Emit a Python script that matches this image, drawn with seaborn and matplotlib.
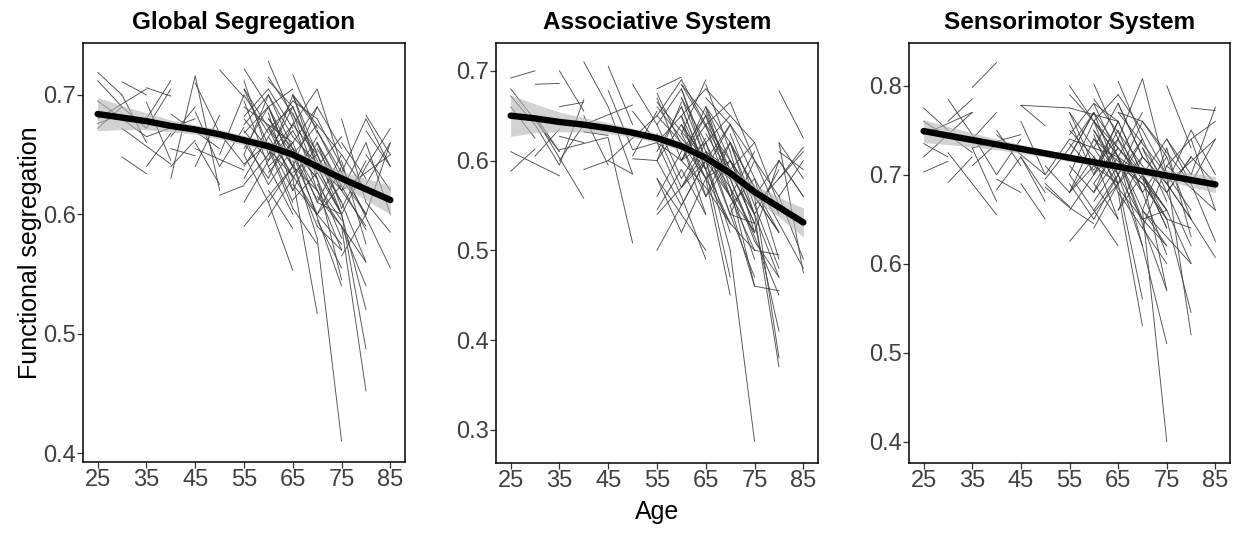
import matplotlib
matplotlib.use("Agg")
import matplotlib.pyplot as plt
import seaborn as sns
import pandas as pd

# Visit ages for each participant (same participants in every panel)
ages = [
    (25, 30), (25, 30), (25, 35), (25, 30), (30, 35), (30, 35), (30, 35, 40), (35, 40),
    (35, 40), (35, 40), (40, 45, 50), (40, 45), (40, 45), (45, 50), (45, 50, 55), (45, 50),
    (50, 55), (50, 55), (50, 55, 60), (30, 40), (35, 45), (45, 55), (25, 35), (40, 50),
    (25, 30), (30, 35), (35, 40), (40, 45), (45, 50), (50, 55),
    (55, 60), (55, 60), (55, 60), (55, 60, 65), (55, 65), (55, 60), (55, 60), (55, 65),
    (55, 60), (55, 60), (55, 60, 65), (55, 65), (60, 65), (60, 65), (60, 65), (60, 65, 70),
    (60, 65), (60, 70), (60, 65), (60, 65), (60, 65), (60, 65, 70), (60, 70), (60, 65),
    (60, 65), (60, 65), (65, 70), (65, 70), (65, 70), (65, 70, 75), (65, 70), (65, 75),
    (65, 70), (65, 70), (65, 70), (65, 70, 75), (65, 70), (65, 75), (65, 70), (65, 70),
    (70, 75), (70, 75), (70, 75), (70, 75, 80), (70, 75), (70, 75), (70, 80), (70, 75),
    (70, 75), (70, 75), (70, 75), (70, 75, 80), (75, 80), (75, 80), (75, 80), (75, 80),
    (75, 80), (75, 85), (75, 80), (75, 80), (80, 85), (80, 85), (80, 85), (80, 85),
    (80, 85), (75, 80, 85), (60, 70), (55, 65), (65, 75), (70, 80), (60, 65), (65, 70),
    (70, 75), (55, 60), (60, 65),
    (55, 60), (55, 60), (55, 60), (55, 60, 65), (55, 60), (55, 60), (55, 65), (55, 60),
    (60, 65), (60, 65), (60, 65), (60, 65), (60, 65, 70), (60, 65), (60, 65), (60, 70),
    (60, 65), (60, 65), (60, 65),
    (65, 70), (65, 70), (65, 70), (65, 70), (65, 70), (65, 70, 75), (65, 70), (65, 70),
    (65, 75), (65, 70), (65, 70),
    (70, 75), (70, 75), (70, 75), (70, 75), (70, 75), (70, 75, 80), (70, 75), (70, 80),
    (70, 75), (70, 75),
    (75, 80), (75, 80), (75, 80), (75, 80), (75, 85), (75, 80),
    (80, 85), (80, 85), (80, 85),
    (60, 65), (65, 70), (70, 75), (60, 65), (65, 70), (70, 75),
]

global_vals = [
    (0.719, 0.700), (0.712, 0.690), (0.695, 0.665), (0.676, 0.684), (0.711, 0.700), (0.648, 0.634),
    (0.690, 0.672, 0.705), (0.706, 0.699), (0.640, 0.668), (0.694, 0.645), (0.630, 0.716, 0.620),
    (0.655, 0.649), (0.640, 0.662), (0.710, 0.668), (0.686, 0.640, 0.673), (0.660, 0.625),
    (0.721, 0.698), (0.616, 0.624), (0.668, 0.642, 0.660), (0.672, 0.642), (0.665, 0.680),
    (0.655, 0.637), (0.680, 0.705), (0.684, 0.655),
    (0.672, 0.690), (0.700, 0.660), (0.680, 0.712), (0.665, 0.690), (0.640, 0.683), (0.650, 0.700),
    (0.722, 0.690), (0.700, 0.668), (0.675, 0.700), (0.655, 0.690, 0.640), (0.590, 0.640),
    (0.712, 0.650), (0.665, 0.625), (0.690, 0.660), (0.640, 0.672), (0.682, 0.705),
    (0.660, 0.630, 0.676), (0.705, 0.610), (0.728, 0.680), (0.690, 0.640), (0.665, 0.695),
    (0.700, 0.655, 0.620), (0.620, 0.588), (0.680, 0.630), (0.655, 0.605), (0.645, 0.670),
    (0.610, 0.553), (0.675, 0.640, 0.690), (0.715, 0.652), (0.635, 0.660), (0.598, 0.630),
    (0.672, 0.690), (0.717, 0.668), (0.690, 0.645), (0.660, 0.610), (0.675, 0.705, 0.640),
    (0.640, 0.590), (0.655, 0.540), (0.620, 0.660), (0.605, 0.575), (0.685, 0.630),
    (0.650, 0.600, 0.575), (0.630, 0.517), (0.665, 0.620), (0.695, 0.680), (0.640, 0.620),
    (0.580, 0.410), (0.650, 0.600), (0.690, 0.655), (0.640, 0.600, 0.520), (0.620, 0.570),
    (0.600, 0.640), (0.660, 0.587), (0.595, 0.555), (0.670, 0.630), (0.630, 0.580),
    (0.610, 0.650), (0.655, 0.620, 0.590), (0.590, 0.452), (0.600, 0.487), (0.650, 0.620),
    (0.620, 0.660), (0.680, 0.610), (0.640, 0.555), (0.565, 0.600), (0.600, 0.640),
    (0.683, 0.650), (0.640, 0.672), (0.610, 0.585), (0.600, 0.660), (0.660, 0.600),
    (0.635, 0.680, 0.640), (0.690, 0.612), (0.625, 0.675), (0.700, 0.650), (0.620, 0.560),
    (0.705, 0.672), (0.675, 0.650), (0.645, 0.610), (0.650, 0.610), (0.660, 0.620),
    (0.680, 0.655), (0.650, 0.700), (0.695, 0.640), (0.670, 0.645, 0.700), (0.630, 0.665),
    (0.610, 0.645), (0.705, 0.640), (0.668, 0.690),
    (0.700, 0.665), (0.685, 0.620), (0.650, 0.690), (0.640, 0.600), (0.672, 0.630, 0.665),
    (0.712, 0.690), (0.625, 0.655), (0.665, 0.600), (0.690, 0.705), (0.655, 0.632), (0.610, 0.640),
    (0.700, 0.650), (0.680, 0.620), (0.650, 0.675), (0.625, 0.600), (0.660, 0.690),
    (0.690, 0.640, 0.600), (0.612, 0.635), (0.645, 0.580), (0.670, 0.600), (0.700, 0.672),
    (0.635, 0.650),
    (0.660, 0.605), (0.640, 0.665), (0.615, 0.590), (0.680, 0.640), (0.590, 0.570),
    (0.650, 0.610, 0.560), (0.600, 0.625), (0.670, 0.600), (0.630, 0.545), (0.610, 0.600),
    (0.660, 0.630), (0.630, 0.600), (0.605, 0.645), (0.645, 0.575), (0.620, 0.650), (0.590, 0.540),
    (0.650, 0.620), (0.625, 0.660), (0.670, 0.640),
    (0.680, 0.650), (0.655, 0.630), (0.625, 0.595), (0.640, 0.660), (0.700, 0.640), (0.660, 0.620),
]

assoc_vals = [
    (0.692, 0.700), (0.672, 0.640), (0.680, 0.610), (0.588, 0.613), (0.685, 0.686), (0.605, 0.635),
    (0.640, 0.595, 0.668), (0.660, 0.665), (0.627, 0.620), (0.700, 0.655), (0.710, 0.660, 0.585),
    (0.590, 0.600), (0.632, 0.628), (0.705, 0.640), (0.678, 0.612, 0.620), (0.625, 0.508),
    (0.685, 0.640), (0.602, 0.600), (0.655, 0.620, 0.650), (0.648, 0.558), (0.612, 0.626),
    (0.600, 0.650), (0.610, 0.583), (0.640, 0.662),
    (0.660, 0.625), (0.650, 0.610), (0.600, 0.640), (0.650, 0.595), (0.600, 0.585), (0.605, 0.655),
    (0.680, 0.693), (0.670, 0.600), (0.650, 0.690), (0.640, 0.680, 0.600), (0.500, 0.600),
    (0.620, 0.560), (0.580, 0.520), (0.660, 0.590), (0.545, 0.590), (0.600, 0.640),
    (0.630, 0.570, 0.620), (0.675, 0.560), (0.690, 0.640), (0.650, 0.560), (0.600, 0.660),
    (0.680, 0.610, 0.560), (0.560, 0.490), (0.640, 0.560), (0.620, 0.540), (0.580, 0.625),
    (0.540, 0.500), (0.660, 0.590, 0.640), (0.685, 0.590), (0.600, 0.640), (0.520, 0.580),
    (0.630, 0.690), (0.685, 0.610), (0.650, 0.570), (0.620, 0.540), (0.640, 0.665, 0.600),
    (0.600, 0.520), (0.610, 0.470), (0.560, 0.620), (0.580, 0.450), (0.660, 0.580),
    (0.620, 0.560, 0.500), (0.590, 0.470), (0.640, 0.560), (0.670, 0.640), (0.600, 0.580),
    (0.500, 0.287), (0.610, 0.520), (0.640, 0.600), (0.590, 0.530, 0.410), (0.570, 0.490),
    (0.540, 0.600), (0.620, 0.480), (0.550, 0.460), (0.630, 0.560), (0.580, 0.510),
    (0.560, 0.610), (0.600, 0.560, 0.520), (0.540, 0.370), (0.560, 0.380), (0.600, 0.540),
    (0.500, 0.495), (0.620, 0.550), (0.580, 0.480), (0.460, 0.455), (0.520, 0.600),
    (0.678, 0.625), (0.580, 0.615), (0.560, 0.490), (0.610, 0.590), (0.620, 0.475),
    (0.560, 0.600, 0.560), (0.650, 0.530), (0.540, 0.600), (0.680, 0.620), (0.580, 0.450),
    (0.670, 0.620), (0.610, 0.590), (0.600, 0.540), (0.600, 0.550), (0.620, 0.580),
    (0.650, 0.620), (0.600, 0.665), (0.640, 0.580), (0.620, 0.600, 0.650), (0.560, 0.610),
    (0.580, 0.540), (0.665, 0.600), (0.610, 0.660),
    (0.670, 0.600), (0.660, 0.590), (0.610, 0.650), (0.590, 0.540), (0.640, 0.580, 0.620),
    (0.685, 0.650), (0.570, 0.610), (0.630, 0.530), (0.650, 0.680), (0.600, 0.570), (0.550, 0.600),
    (0.660, 0.600), (0.640, 0.560), (0.600, 0.640), (0.570, 0.530), (0.620, 0.650),
    (0.650, 0.590, 0.530), (0.560, 0.600), (0.600, 0.500), (0.630, 0.540), (0.660, 0.620),
    (0.580, 0.600),
    (0.620, 0.540), (0.590, 0.620), (0.560, 0.520), (0.640, 0.580), (0.530, 0.500),
    (0.600, 0.540, 0.470), (0.550, 0.580), (0.620, 0.520), (0.570, 0.460), (0.540, 0.530),
    (0.600, 0.560), (0.560, 0.520), (0.540, 0.590), (0.580, 0.490), (0.550, 0.610), (0.510, 0.470),
    (0.600, 0.560), (0.560, 0.600), (0.620, 0.580),
    (0.640, 0.600), (0.610, 0.570), (0.570, 0.520), (0.600, 0.620), (0.655, 0.580), (0.620, 0.570),
]

sensori_vals = [
    (0.775, 0.750), (0.760, 0.742), (0.745, 0.770), (0.703, 0.715), (0.760, 0.785), (0.691, 0.720),
    (0.785, 0.745, 0.700), (0.798, 0.826), (0.740, 0.770), (0.730, 0.670), (0.683, 0.720, 0.680),
    (0.750, 0.710), (0.695, 0.680), (0.778, 0.755), (0.760, 0.700, 0.740), (0.720, 0.670),
    (0.690, 0.664), (0.695, 0.730), (0.686, 0.663, 0.645), (0.725, 0.655), (0.730, 0.745),
    (0.778, 0.775), (0.720, 0.770), (0.745, 0.700),
    (0.735, 0.720), (0.745, 0.725), (0.710, 0.735), (0.700, 0.740), (0.690, 0.650), (0.710, 0.680),
    (0.800, 0.760), (0.770, 0.730), (0.745, 0.780), (0.720, 0.770, 0.700), (0.625, 0.690),
    (0.760, 0.700), (0.690, 0.650), (0.740, 0.720), (0.680, 0.740), (0.730, 0.770),
    (0.710, 0.680, 0.740), (0.775, 0.760), (0.802, 0.740), (0.760, 0.690), (0.700, 0.760),
    (0.780, 0.720, 0.660), (0.660, 0.620), (0.740, 0.690), (0.720, 0.650), (0.690, 0.730),
    (0.650, 0.700), (0.750, 0.700, 0.760), (0.785, 0.710), (0.680, 0.720), (0.640, 0.690),
    (0.730, 0.780), (0.805, 0.740), (0.760, 0.700), (0.720, 0.650), (0.740, 0.808, 0.700),
    (0.700, 0.620), (0.720, 0.570), (0.660, 0.720), (0.680, 0.530), (0.750, 0.680),
    (0.700, 0.650, 0.620), (0.690, 0.560), (0.730, 0.660), (0.770, 0.760), (0.710, 0.690),
    (0.660, 0.400), (0.700, 0.640), (0.760, 0.720), (0.690, 0.650, 0.545), (0.680, 0.610),
    (0.640, 0.710), (0.730, 0.650), (0.620, 0.510), (0.740, 0.680), (0.700, 0.640),
    (0.660, 0.730), (0.720, 0.690, 0.650), (0.700, 0.520), (0.800, 0.730), (0.740, 0.690),
    (0.680, 0.720), (0.730, 0.630), (0.710, 0.660), (0.650, 0.640), (0.690, 0.750),
    (0.775, 0.772), (0.700, 0.776), (0.690, 0.625), (0.650, 0.607), (0.740, 0.660),
    (0.710, 0.740, 0.760), (0.760, 0.680), (0.680, 0.740), (0.770, 0.700), (0.660, 0.600),
    (0.750, 0.710), (0.720, 0.700), (0.700, 0.660), (0.700, 0.660), (0.740, 0.700),
    (0.750, 0.720), (0.700, 0.760), (0.770, 0.710), (0.735, 0.705, 0.760), (0.680, 0.720),
    (0.660, 0.700), (0.790, 0.730), (0.720, 0.770),
    (0.770, 0.730), (0.745, 0.680), (0.700, 0.750), (0.690, 0.650), (0.730, 0.690, 0.740),
    (0.780, 0.760), (0.670, 0.710), (0.720, 0.650), (0.760, 0.790), (0.710, 0.690), (0.660, 0.700),
    (0.780, 0.720), (0.740, 0.680), (0.700, 0.740), (0.680, 0.640), (0.720, 0.770),
    (0.760, 0.700, 0.650), (0.660, 0.700), (0.720, 0.620), (0.740, 0.660), (0.790, 0.750),
    (0.690, 0.720),
    (0.730, 0.670), (0.700, 0.740), (0.660, 0.620), (0.750, 0.700), (0.640, 0.600),
    (0.710, 0.680, 0.620), (0.680, 0.720), (0.760, 0.690), (0.700, 0.570), (0.650, 0.660),
    (0.740, 0.700), (0.700, 0.660), (0.680, 0.720), (0.720, 0.650), (0.690, 0.740), (0.660, 0.600),
    (0.720, 0.690), (0.690, 0.740), (0.750, 0.700),
    (0.760, 0.720), (0.730, 0.700), (0.690, 0.650), (0.700, 0.730), (0.780, 0.720), (0.720, 0.690),
]

# Group-level smooth fit with its confidence half-width
fit_age = [25, 30, 35, 40, 45, 50, 55, 60, 65, 70, 75, 80, 85]
global_fit = [0.684, 0.681, 0.678, 0.674, 0.671, 0.667, 0.662, 0.657, 0.650, 0.640, 0.630, 0.621, 0.612]
global_ci = [0.014, 0.010, 0.007, 0.005, 0.004, 0.004, 0.004, 0.004, 0.004, 0.005, 0.006, 0.009, 0.012]
assoc_fit = [0.650, 0.647, 0.643, 0.640, 0.636, 0.631, 0.625, 0.616, 0.603, 0.586, 0.565, 0.548, 0.531]
assoc_ci = [0.023, 0.016, 0.011, 0.008, 0.006, 0.005, 0.005, 0.005, 0.005, 0.006, 0.008, 0.011, 0.016]
sensori_fit = [0.749, 0.744, 0.739, 0.734, 0.729, 0.724, 0.719, 0.714, 0.709, 0.704, 0.699, 0.694, 0.689]
sensori_ci = [0.013, 0.010, 0.008, 0.006, 0.005, 0.004, 0.004, 0.004, 0.004, 0.005, 0.006, 0.008, 0.009]

titles = ["Global Segregation", "Associative System", "Sensorimotor System"]
x_ticks = [25, 35, 45, 55, 65, 75, 85]
y_ticks = [[0.4, 0.5, 0.6, 0.7], [0.3, 0.4, 0.5, 0.6, 0.7], [0.4, 0.5, 0.6, 0.7, 0.8]]
y_limits = [(0.3925, 0.7435), (0.263, 0.731), (0.376, 0.848)]

panels = [
    (global_vals, global_fit, global_ci),
    (assoc_vals, assoc_fit, assoc_ci),
    (sensori_vals, sensori_fit, sensori_ci),
]

sns.set_theme(style="ticks")
plt.rcParams["font.family"] = ["Liberation Sans", "DejaVu Sans"]

W, H = 1233, 539
fig = plt.figure(figsize=(W / 100, H / 100), dpi=100)
axes_px = [(83, 405, 43, 462), (496, 818, 43, 463), (909, 1230, 43, 463)]

for i, (vals, fit, ci) in enumerate(panels):
    l, r, t, b = axes_px[i]
    ax = fig.add_axes([l / W, 1 - b / H, (r - l) / W, (b - t) / H])

    rows = []
    for sid, (a, v) in enumerate(zip(ages, vals)):
        for aa, vv in zip(a, v):
            rows.append({"subject": sid, "age": aa, "value": vv})
    df = pd.DataFrame(rows)

    sns.lineplot(data=df, x="age", y="value", units="subject", estimator=None,
                 color="#3c3c3c", linewidth=0.65, alpha=0.9, ax=ax, legend=False)

    fit_df = pd.DataFrame({"age": fit_age, "fit": fit,
                           "lo": [f - c for f, c in zip(fit, ci)],
                           "hi": [f + c for f, c in zip(fit, ci)]})
    ax.fill_between(fit_df["age"], fit_df["lo"], fit_df["hi"],
                    color="#b4b4b4", alpha=0.6, linewidth=0, zorder=3)
    sns.lineplot(data=fit_df, x="age", y="fit", color="black", linewidth=4.6,
                 ax=ax, zorder=4, legend=False)

    ax.set_xlim(22, 88)
    ax.set_ylim(*y_limits[i])
    ax.set_xticks(x_ticks)
    ax.set_yticks(y_ticks[i])
    ax.set_xticklabels([str(x) for x in x_ticks])
    ax.set_yticklabels([f"{y:.1f}" for y in y_ticks[i]])
    ax.set_xlabel("")
    ax.set_ylabel("")
    for s in ax.spines.values():
        s.set_visible(True)
        s.set_color("black")
        s.set_linewidth(1.1)
    ax.tick_params(axis="both", length=4, width=0.9, color="#333333",
                   labelsize=17, labelcolor="#404040", pad=1)
    ax.set_facecolor("white")

    fig.text((l + r) / 2 / W, 1 - 22 / H, titles[i], ha="center", va="center",
             fontsize=17.5, fontweight="bold", color="black")

fig.text(30 / W, 1 - 253 / H, "Functional segregation", rotation=90,
         ha="center", va="center", fontsize=18, color="black")
fig.text(657 / W, 1 - 512 / H, "Age", ha="center", va="center",
         fontsize=18, color="black")

fig.savefig("out.png", dpi=100, facecolor="white")
